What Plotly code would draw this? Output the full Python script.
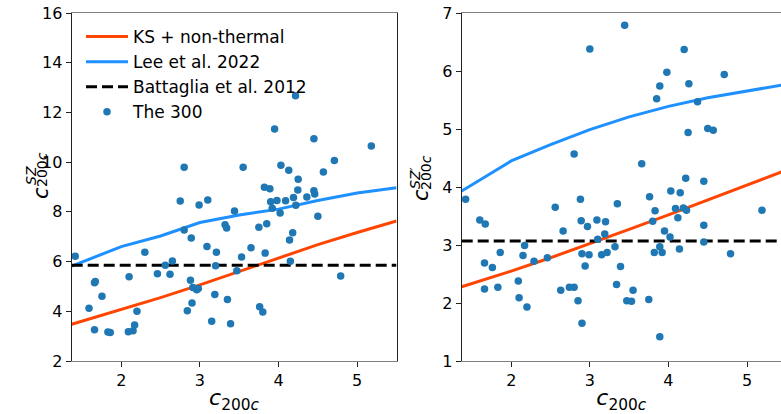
import plotly.graph_objects as go

# ---------------- data ----------------
# left panel: The 300 scatter (c200c, c_SZ)
left_c = [4.216, 3.95, 4.45, 5.18, 2.80, 3.55, 4.03, 4.13, 4.71, 4.25, 4.57, 3.82, 3.89, 4.245, 4.45, 4.46,
          1.415, 2.75, 2.99, 3.10, 2.80, 2.89, 2.30, 3.09, 3.21, 2.65, 2.56, 2.46, 2.62, 2.10, 3.20,
          1.66, 1.67, 1.755, 1.59, 1.66, 1.83, 1.86, 2.09, 2.15, 2.17, 2.20, 2.88, 2.91, 2.96, 2.98,
          2.90, 2.84, 3.19, 3.35, 3.15, 3.39, 3.44, 3.32, 3.34, 3.65, 3.53, 3.47, 3.75, 3.85, 3.83,
          3.76, 3.80, 3.90, 3.92, 3.98, 4.02, 4.09, 4.19, 4.22, 4.36, 4.50, 4.18, 4.14, 4.15, 4.79]
left_sz = [12.67, 11.33, 10.94, 10.65, 9.79, 9.79, 9.87, 9.67, 10.07, 9.31, 9.60, 8.99, 8.93, 8.88, 8.85, 8.72,
           6.21, 8.44, 8.28, 8.48, 7.27, 6.95, 6.38, 6.61, 6.37, 6.02, 5.85, 5.51, 5.49, 5.39, 5.83,
           5.15, 5.20, 4.60, 4.12, 3.26, 3.17, 3.15, 3.18, 3.22, 3.45, 4.00, 5.25, 4.96, 4.87, 4.92,
           4.33, 4.02, 4.68, 4.47, 3.60, 3.50, 8.03, 7.48, 7.35, 6.56, 6.18, 5.63, 7.38, 7.52, 6.34,
           4.18, 3.97, 8.41, 8.15, 8.46, 7.95, 8.45, 8.58, 8.27, 8.60, 7.82, 7.16, 6.87, 6.01, 5.42]

# right panel: The 300 scatter (c200c, c_SZ')
right_c = [3.443, 3.00, 4.20, 3.98, 4.71, 3.89, 4.26, 3.85, 4.37, 4.50, 4.57, 4.25, 2.80, 3.66, 4.22, 4.45,
           4.03, 4.15, 3.76, 1.42, 2.88, 2.56, 3.35, 1.60, 1.67, 2.89, 3.09, 3.20, 2.97, 3.83, 3.80,
           4.09, 4.19, 4.23, 4.12, 4.45, 5.19, 2.66, 3.19, 3.10, 3.95, 4.02, 4.45, 2.17, 1.86, 2.15,
           1.66, 1.76, 2.29, 2.46, 2.90, 2.99, 3.15, 3.22, 3.32, 2.94, 3.39, 3.89, 3.82, 3.92, 4.14,
           4.79, 2.09, 1.66, 1.83, 2.10, 2.20, 2.63, 2.74, 2.80, 2.85, 3.34, 3.55, 3.47, 3.53, 3.75,
           2.90, 3.89]
right_sz = [6.79, 6.38, 6.37, 5.98, 5.94, 5.74, 5.78, 5.52, 5.47, 5.01, 4.98, 4.94, 4.57, 4.40, 4.15, 4.10,
            3.93, 3.90, 3.83, 3.79, 3.79, 3.65, 3.71, 3.43, 3.36, 3.42, 3.43, 3.40, 3.32, 3.59, 3.41,
            3.63, 3.64, 3.60, 3.47, 3.34, 3.60, 3.24, 3.19, 3.10, 3.24, 3.14, 3.05, 2.99, 2.87, 2.82,
            2.69, 2.61, 2.72, 2.78, 2.85, 2.83, 2.83, 2.87, 2.97, 2.64, 2.63, 2.97, 2.87, 2.87, 2.93,
            2.85, 2.38, 2.24, 2.27, 2.09, 1.93, 2.22, 2.27, 2.27, 2.04, 2.32, 2.22, 2.04, 2.03, 2.06,
            1.65, 1.42]

# model curves
c_grid = [1.37, 2.0, 2.5, 3.0, 3.5, 4.0, 4.5, 5.0, 5.5]
left_ks = [3.48, 4.06, 4.55, 5.06, 5.60, 6.15, 6.68, 7.17, 7.63]
left_lee = [5.82, 6.60, 7.03, 7.57, 7.87, 8.11, 8.46, 8.76, 8.97]
right_ks = [2.28, 2.55, 2.78, 3.02, 3.27, 3.52, 3.78, 4.04, 4.29]
right_lee = [3.93, 4.45, 4.73, 4.99, 5.21, 5.39, 5.54, 5.66, 5.77]
battaglia_left = 5.85
battaglia_right = 3.07

x_range_left = [1.37, 5.5]
x_range_right = [1.37, 5.432]
y_range_left = [2, 16]
y_range_right = [1, 7]
x_ticks = [2, 3, 4, 5]
y_ticks_left = [2, 4, 6, 8, 10, 12, 14, 16]
y_ticks_right = [1, 2, 3, 4, 5, 6, 7]

ORANGE = "#FF4500"
BLUE = "#1E90FF"
PTS = "#1f77b4"
FONT = "DejaVu Sans"

W, H = 781, 414
MT, MB = 13, 53
PH = H - MT - MB

fig = go.Figure()

def add_panel(xa, ya, ks, lee, batt, pc, ps, show):
    fig.add_trace(go.Scatter(x=c_grid, y=ks, mode="lines", line=dict(color=ORANGE, width=3),
                             name="KS + non-thermal", showlegend=show, xaxis=xa, yaxis=ya))
    fig.add_trace(go.Scatter(x=c_grid, y=lee, mode="lines", line=dict(color=BLUE, width=3),
                             name="Lee et al. 2022", showlegend=show, xaxis=xa, yaxis=ya))
    fig.add_trace(go.Scatter(x=[x_range_left[0], x_range_left[1]], y=[batt, batt], mode="lines",
                             line=dict(color="black", width=3, dash="11px,5px"),
                             name="Battaglia et al. 2012", showlegend=show, xaxis=xa, yaxis=ya))
    fig.add_trace(go.Scatter(x=pc, y=ps, mode="markers", marker=dict(color=PTS, size=7.5),
                             name="The 300", showlegend=show, xaxis=xa, yaxis=ya))

add_panel("x", "y", left_ks, left_lee, battaglia_left, left_c, left_sz, True)
add_panel("x2", "y2", right_ks, right_lee, battaglia_right, right_c, right_sz, False)

axis_common = dict(showgrid=False, zeroline=False, ticks="outside", ticklen=5, tickwidth=1,
                   tickcolor="#222", tickfont=dict(family=FONT, size=16, color="black"))

xtitle = dict(text="<i>c</i><sub>200<i>c</i></sub>", font=dict(family=FONT, size=22, color="black"),
              standoff=6)

fig.update_layout(
    width=W, height=H,
    margin=dict(l=0, r=0, t=MT, b=MB, pad=0),
    plot_bgcolor="white", paper_bgcolor="white",
    font=dict(family=FONT, color="black"),
    xaxis=dict(domain=[71.7 / W, 396.5 / W], range=x_range_left, tickvals=x_ticks, title=xtitle,
               showline=True, linecolor="#808080", linewidth=1.3, mirror=True, anchor="y", **axis_common),
    yaxis=dict(domain=[0, 1], range=y_range_left, tickvals=y_ticks_left,
               showline=True, linecolor="#222", linewidth=1.1, mirror=True, anchor="x", **axis_common),
    xaxis2=dict(domain=[461.7 / W, 1.0], range=x_range_right, tickvals=x_ticks, title=xtitle,
                showline=True, linecolor="#808080", linewidth=1.3, mirror=True, anchor="y2", **axis_common),
    yaxis2=dict(domain=[0, 1], range=y_range_right, tickvals=y_ticks_right,
                showline=True, linecolor="#222", linewidth=1.1, mirror=False, anchor="x2", **axis_common),
    legend=dict(x=81 / W, y=(H - MB - 19) / PH, xanchor="left", yanchor="top",
                bgcolor="rgba(255,255,255,0)", font=dict(family=FONT, size=17, color="black"),
                itemwidth=42, tracegroupgap=0),
    showlegend=True,
)

# stacked y-axis labels (c with superscript and subscript), rotated
def px2paper(px, py):
    return px / W, (H - MB - py) / PH

def ylabel(cx, cy, sup):
    # main letter
    x, y = px2paper(cx, cy)
    fig.add_annotation(text="<i>c</i>", x=x, y=y, xref="paper", yref="paper", showarrow=False,
                       textangle=-90, font=dict(family=FONT, size=21, color="black"))
    # superscript (raised -> to the left), placed after the letter (upwards)
    x, y = px2paper(cx - 6, cy - 17)
    fig.add_annotation(text=sup, x=x, y=y, xref="paper", yref="paper", showarrow=False,
                       textangle=-90, font=dict(family=FONT, size=14, color="black"))
    # subscript (lowered -> to the right)
    x, y = px2paper(cx + 5, cy - 23)
    fig.add_annotation(text="200<i>c</i>", x=x, y=y, xref="paper", yref="paper", showarrow=False,
                       textangle=-90, font=dict(family=FONT, size=14, color="black"))

ylabel(27, 193, "<i>SZ</i>")
ylabel(421, 195, "<i>SZ′</i>")

fig.write_html("out.html")
